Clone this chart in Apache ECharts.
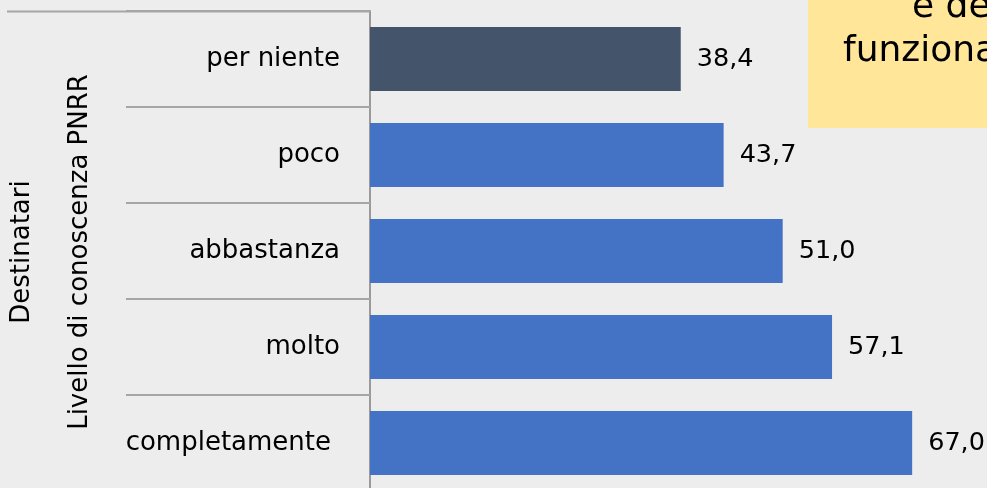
<!DOCTYPE html>
<html>
<head>
<meta charset="utf-8">
<script src="https://cdn.jsdelivr.net/npm/echarts@6/dist/echarts.min.js"></script>
<style>
html,body{margin:0;padding:0;background:#ededed;}
#c{width:987px;height:488px;}
</style>
</head>
<body>
<div id="c"></div>
<script>
const categories = ['per niente', 'poco', 'abbastanza', 'molto', 'completamente'];
const values = [38.4, 43.7, 51.0, 57.1, 67.0];
const barColors = ['#44546a', '#4472c4', '#4472c4', '#4472c4', '#4472c4'];
const outerTitle = 'Destinatari';
const innerTitle = 'Livello di conoscenza PNRR';
const noteLines = ['e dei', 'funzionamento'];

const FONT = '"DejaVu Sans", Verdana, sans-serif';
const FS = 26;
const chart = echarts.init(document.getElementById('c'));
chart.setOption({
  backgroundColor: '#ededed',
  animation: false,
  grid: { left: 370, top: 11, width: 615, height: 480, containLabel: false, outerBoundsMode: 'none' },
  xAxis: {
    type: 'value', min: 0, max: 76, show: false
  },
  yAxis: {
    type: 'category', inverse: true, data: categories,
    axisLine: { show: true, lineStyle: { color: '#9a9a9a', width: 2 } },
    axisTick: { show: true, length: 244, lineStyle: { color: '#a6a6a6', width: 2 } },
    axisLabel: {
      margin: 30, color: '#000', fontSize: FS, fontFamily: FONT,
      formatter: function (v) { return v === 'completamente' ? '{c|' + v + '}' : v; },
      rich: { c: { fontSize: FS, fontFamily: FONT, color: '#000', padding: [0, 9, 0, 0] } }
    },
    splitLine: { show: false }
  },
  series: [{
    type: 'bar',
    data: values.map((v, i) => ({ value: v, itemStyle: { color: barColors[i] } })),
    barCategoryGap: '33.3%',
    label: {
      show: true, position: 'right', distance: 16, color: '#000',
      fontSize: 25.5, fontFamily: FONT,
      formatter: p => p.value.toFixed(1).replace('.', ',')
    }
  }],
  graphic: [
    { type: 'line', shape: { x1: 7, y1: 11.5, x2: 370, y2: 11.5 }, style: { stroke: '#a6a6a6', lineWidth: 2 } },
    { type: 'text', x: 35, y: 252, rotation: Math.PI / 2,
      style: { text: outerTitle, font: FS + 'px ' + FONT, fill: '#000', align: 'center', verticalAlign: 'bottom' } },
    { type: 'text', x: 93, y: 252, rotation: Math.PI / 2,
      style: { text: innerTitle, font: FS + 'px ' + FONT, fill: '#000', align: 'center', verticalAlign: 'bottom' } },
    { type: 'rect', shape: { x: 808, y: 0, width: 200, height: 128 }, style: { fill: '#ffe699' } },
    { type: 'text', x: 912, y: 7.5, style: { text: noteLines[0], font: '36px "DejaVu Sans", sans-serif', fill: '#000', verticalAlign: 'middle' } },
    { type: 'text', x: 843, y: 51.5, style: { text: noteLines[1], font: '36px "DejaVu Sans", sans-serif', fill: '#000', verticalAlign: 'middle' } }
  ]
});
</script>
</body>
</html>
